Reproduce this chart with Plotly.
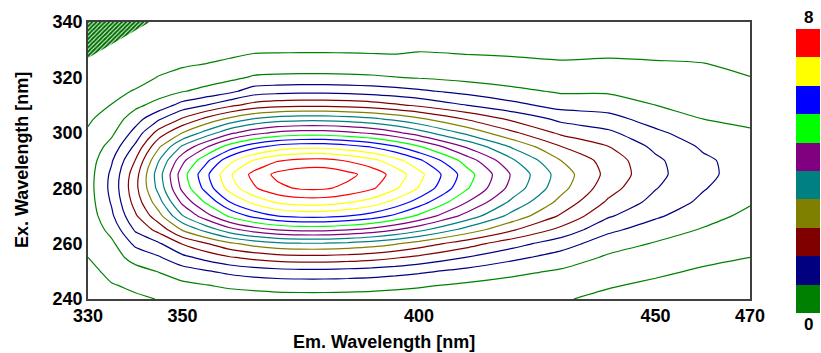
import plotly.graph_objects as go

# ---------------- data ----------------
em_nm = [330, 335, 340, 345, 350, 355, 360, 365, 370, 375, 380,
         385, 390, 395, 400, 410, 420, 430, 440, 450, 460, 470]
ex_nm = [240, 245, 250, 255, 260, 265, 270, 275, 280, 285, 290,
         295, 300, 305, 310, 315, 320, 325, 330, 335, 340]

# intensity columns (one per emission wavelength, listed from Ex 240 to Ex 340)
c330 = [0.15, 0.21, 0.29, 0.40, 0.43, 0.50, 0.56, 0.61, 0.63, 0.62, 0.58, 0.51, 0.44, 0.35, 0.24, 0.15, 0.08, 0.01, -0.04, -0.09, -0.15]
c335 = [0.28, 0.38, 0.50, 0.62, 0.72, 0.93, 1.13, 1.24, 1.31, 1.28, 1.16, 0.95, 0.72, 0.56, 0.41, 0.28, 0.17, 0.08, 0.02, -0.04, -0.09]
c340 = [0.35, 0.46, 0.66, 0.95, 1.29, 1.65, 1.94, 2.16, 2.28, 2.23, 2.01, 1.68, 1.34, 1.02, 0.70, 0.43, 0.25, 0.12, 0.03, -0.03, -0.08]
c345 = [0.41, 0.57, 0.82, 1.16, 1.55, 2.14, 2.67, 3.05, 3.34, 3.43, 3.19, 2.74, 2.17, 1.55, 0.95, 0.62, 0.42, 0.25, 0.11, 0.02, -0.05]
c350 = [0.51, 0.71, 1.02, 1.49, 2.03, 2.84, 3.58, 4.10, 4.51, 4.63, 4.30, 3.67, 2.80, 2.05, 1.35, 0.78, 0.52, 0.35, 0.18, 0.08, -0.01]
c355 = [0.56, 0.79, 1.16, 1.73, 2.38, 3.35, 4.24, 4.87, 5.35, 5.50, 5.10, 4.35, 3.35, 2.50, 1.60, 0.92, 0.60, 0.40, 0.28, 0.18, 0.10]
c360 = [0.60, 0.87, 1.30, 1.96, 2.72, 3.85, 4.88, 5.60, 6.17, 6.34, 5.88, 5.00, 3.90, 2.90, 1.90, 1.10, 0.70, 0.45, 0.32, 0.20, 0.11]
c365 = [0.62, 0.92, 1.40, 2.11, 2.95, 4.19, 5.32, 6.11, 6.74, 6.92, 6.41, 5.46, 4.25, 3.22, 2.14, 1.40, 0.84, 0.56, 0.34, 0.21, 0.12]
c370 = [0.64, 0.96, 1.46, 2.22, 3.10, 4.41, 5.61, 6.45, 7.10, 7.30, 6.76, 5.75, 4.48, 3.39, 2.25, 1.46, 0.87, 0.57, 0.35, 0.22, 0.12]
c375 = [0.65, 0.97, 1.49, 2.26, 3.16, 4.50, 5.72, 6.58, 7.25, 7.45, 6.90, 5.87, 4.57, 3.45, 2.29, 1.49, 0.88, 0.58, 0.35, 0.22, 0.12]
c380 = [0.65, 0.97, 1.49, 2.26, 3.16, 4.50, 5.72, 6.58, 7.25, 7.46, 6.92, 5.88, 4.57, 3.45, 2.29, 1.49, 0.88, 0.58, 0.35, 0.22, 0.12]
c385 = [0.64, 0.96, 1.46, 2.22, 3.10, 4.41, 5.61, 6.45, 7.10, 7.30, 6.76, 5.75, 4.48, 3.39, 2.25, 1.46, 0.87, 0.57, 0.35, 0.22, 0.12]
c390 = [0.63, 0.94, 1.42, 2.15, 3.00, 4.26, 5.42, 6.23, 6.86, 7.05, 6.53, 5.56, 4.33, 3.28, 2.18, 1.42, 0.85, 0.56, 0.34, 0.22, 0.12]
c395 = [0.61, 0.90, 1.35, 2.04, 2.84, 4.02, 5.11, 5.87, 6.46, 6.64, 6.15, 5.24, 4.09, 3.10, 2.06, 1.35, 0.81, 0.55, 0.33, 0.21, 0.11]
c400 = [0.59, 0.85, 1.27, 1.90, 2.63, 3.72, 4.72, 5.42, 5.97, 6.13, 5.68, 4.84, 3.78, 2.87, 1.92, 1.27, 0.77, 0.57, 0.37, 0.23, 0.14]
c410 = [0.53, 0.74, 1.08, 1.59, 2.18, 3.05, 3.86, 4.42, 4.86, 4.99, 4.63, 3.95, 3.10, 2.37, 1.60, 1.08, 0.68, 0.52, 0.34, 0.22, 0.13]
c420 = [0.48, 0.64, 0.90, 1.29, 1.75, 2.43, 3.04, 3.48, 3.82, 3.92, 3.64, 3.12, 2.46, 1.90, 1.31, 0.90, 0.59, 0.47, 0.33, 0.20, 0.12]
c430 = [0.43, 0.56, 0.75, 1.04, 1.38, 1.89, 2.35, 2.68, 2.93, 3.01, 2.80, 2.41, 1.92, 1.50, 1.05, 0.75, 0.52, 0.43, 0.31, 0.19, 0.11]
c440 = [0.32, 0.43, 0.56, 0.74, 0.98, 1.29, 1.65, 1.94, 2.16, 2.28, 2.23, 2.01, 1.68, 1.34, 1.02, 0.75, 0.55, 0.45, 0.32, 0.18, 0.10]
c450 = [0.25, 0.34, 0.46, 0.60, 0.77, 1.00, 1.26, 1.47, 1.62, 1.71, 1.68, 1.51, 1.28, 1.03, 0.80, 0.60, 0.46, 0.43, 0.30, 0.17, 0.10]
c460 = [0.22, 0.28, 0.36, 0.48, 0.61, 0.77, 0.96, 1.12, 1.23, 1.30, 1.27, 1.15, 0.98, 0.80, 0.63, 0.49, 0.43, 0.41, 0.27, 0.16, 0.08]
c470 = [0.20, 0.24, 0.30, 0.40, 0.45, 0.55, 0.70, 0.84, 0.93, 1.01, 1.03, 0.97, 0.85, 0.71, 0.58, 0.45, 0.41, 0.27, 0.18, 0.11, 0.06]

intensity_columns = [c330, c335, c340, c345, c350, c355, c360, c365, c370, c375, c380,
                     c385, c390, c395, c400, c410, c420, c430, c440, c450, c460, c470]

# contour levels
level_start = 0.4
level_end = 7.2
level_step = 0.4

# masked (hatched) corner region
masked_em = [330, 343.1, 330, 330]
masked_ex = [340, 340, 327, 340]

# legend bar
band_colors = ["#008000", "#000080", "#800000", "#808000", "#008080",
               "#800080", "#00FF00", "#0000FF", "#FFFF00", "#FF0000"]
band_values = [0, 1, 2, 3, 4, 5, 6, 7, 8, 9]
scale_min_label = "0"
scale_max_label = "8"
scale_min = 0
scale_max = 8

x_ticks = [330, 350, 400, 450, 470]
y_ticks = [240, 260, 280, 300, 320, 340]

# ---------------- figure ----------------
z_grid = [list(row) for row in zip(*intensity_columns)]

n = len(band_colors)
discrete_scale = []
for k, c in enumerate(band_colors):
    discrete_scale.append([k / n, c])
    discrete_scale.append([(k + 1) / n, c])

FONT = "Liberation Sans, Arial, sans-serif"

fig = go.Figure()

fig.add_trace(go.Contour(
    x=em_nm, y=ex_nm, z=z_grid,
    contours=dict(start=level_start, end=level_end, size=level_step, coloring="lines"),
    colorscale=discrete_scale,
    zmin=scale_min - 0.01, zmax=scale_max - 0.01, zauto=False,
    line=dict(width=1.2, smoothing=0.6),
    showscale=False, hoverinfo="skip",
    xaxis="x", yaxis="y",
))

fig.add_trace(go.Scatter(
    x=masked_em, y=masked_ex, mode="lines", fill="toself",
    line=dict(width=0, color="#008000"),
    fillcolor="white",
    fillpattern=dict(shape="/", fgcolor="#007000", bgcolor="white", size=3, solidity=0.7),
    hoverinfo="skip", showlegend=False,
    xaxis="x", yaxis="y",
))

fig.add_trace(go.Heatmap(
    x=[0], y=band_values, z=[[v] for v in band_values],
    colorscale=discrete_scale, zmin=-0.5, zmax=n - 0.5,
    showscale=False, hoverinfo="skip",
    xaxis="x2", yaxis="y2",
))

W, H = 821, 353
ml, mr, mt, mb = 88, 0, 22, 40
pw, ph = W - ml - mr, H - mt - mb


def px_x(p):
    return (p - ml) / pw


def px_y(p):
    return (H - mb - p) / ph


axis_common = dict(
    showgrid=False, zeroline=False, showline=True, mirror=True,
    linecolor="#404040", linewidth=1.5, ticks="", automargin=False,
    tickfont=dict(family=FONT, size=18, color="black", weight="bold"),
)

fig.update_layout(
    template="none",
    width=W, height=H,
    margin=dict(l=ml, r=mr, t=mt, b=mb, autoexpand=False),
    paper_bgcolor="white", plot_bgcolor="white",
    showlegend=False,
    xaxis=dict(domain=[0, px_x(750)], range=[330, 470], tickvals=x_ticks,
               ticktext=[str(v) for v in x_ticks], anchor="y", **axis_common),
    yaxis=dict(domain=[px_y(299), 1], range=[240, 340], tickvals=y_ticks,
               ticktext=[str(v) for v in y_ticks], anchor="x", **axis_common),
    xaxis2=dict(domain=[px_x(796), px_x(820)], range=[-0.5, 0.5], visible=False,
                anchor="y2", automargin=False),
    yaxis2=dict(domain=[0, px_y(29)], range=[-0.5, n - 0.5], visible=False,
                anchor="x2", automargin=False),
    annotations=[
        dict(text="Em. Wavelength [nm]", x=px_x(384), y=px_y(342), xref="paper", yref="paper",
             showarrow=False, xanchor="center", yanchor="middle",
             font=dict(family=FONT, size=18, color="black", weight="bold")),
        dict(text="Ex. Wavelength [nm]", x=px_x(22), y=px_y(160), xref="paper", yref="paper",
             showarrow=False, xanchor="center", yanchor="middle", textangle=-90,
             font=dict(family=FONT, size=18, color="black", weight="bold")),
        dict(text=scale_max_label, x=px_x(808), y=px_y(17), xref="paper", yref="paper",
             showarrow=False, xanchor="center", yanchor="middle",
             font=dict(family=FONT, size=17, color="black", weight="bold")),
        dict(text=scale_min_label, x=px_x(808), y=px_y(324), xref="paper", yref="paper",
             showarrow=False, xanchor="center", yanchor="middle",
             font=dict(family=FONT, size=17, color="black", weight="bold")),
    ],
)

fig.write_html(
    "out.html",
    config={"displayModeBar": False},
    post_script="document.body.style.margin='0px';document.body.style.overflow='hidden';",
)
